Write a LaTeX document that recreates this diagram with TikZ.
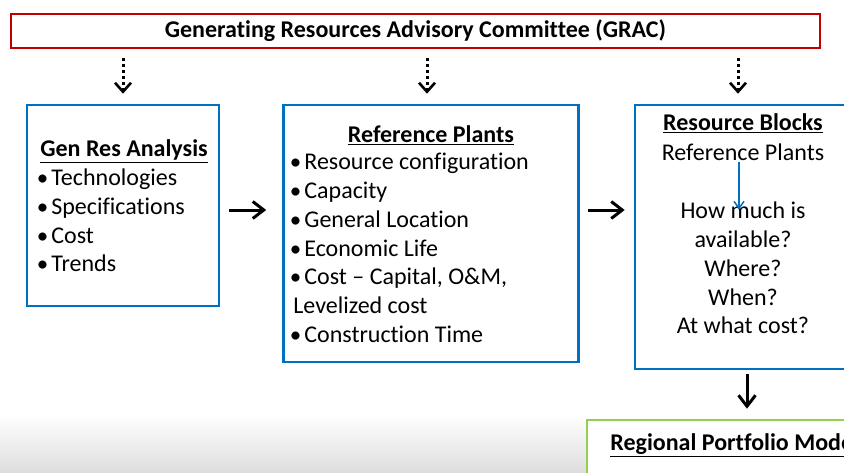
\documentclass[tikz,border=0pt]{standalone}
\usepackage{fontspec}
\setmainfont[Ligatures={NoCommon}]{Carlito}
\usetikzlibrary{arrows.meta}
\definecolor{gracred}{RGB}{192,0,0}
\definecolor{boxblue}{RGB}{0,112,192}
\definecolor{portgreen}{RGB}{146,208,80}
\tikzset{every picture/.style={line width=0.75pt}}
\newcommand{\hd}[1]{\underline{\textbf{#1}}}
\newcommand{\itm}{\makebox[11pt][l]{\hspace{-3.5pt}\fontsize{23}{0}\selectfont\textbullet}}

\begin{document}
\begin{tikzpicture}[x=1pt,y=1pt,yscale=-1,xscale=1,
  panel/.style={rectangle,draw=boxblue,line width=2.6pt,fill=white,inner sep=0pt},
  txt/.style={inner sep=0pt,font=\fontsize{24}{28.8}\selectfont},
  feed/.style={line width=3pt,dash pattern=on 3pt off 3pt,
    -{Straight Barb[length=9pt,width=16pt,line width=2.6pt]}},
  flow/.style={line width=3pt,-{Straight Barb[length=11pt,width=17pt,line width=3pt]}}]
\clip (0,0) rectangle (844,472);
\fill[white] (0,0) rectangle (844,472);
% slide floor shading
\shade[top color=white,bottom color=black!13] (0,414) rectangle (844,472);

% committee banner
\node[rectangle,draw=gracred,line width=2.6pt,fill=white,minimum width=809pt,minimum height=34pt,
  txt] (grac) at (415.5,31) {\textbf{Generating Resources Advisory Committee (GRAC)}};

% Shape: analysis box
\node[panel,minimum width=192pt,minimum height=201pt] (gra) at (123,205.5) {};
\node[txt,anchor=west,align=left] (gratxt) at (40,206) {\hd{Gen Res Analysis}\\
  \itm Technologies\\ \itm Specifications\\ \itm Cost\\ \itm Trends};

% Shape: reference plants box
\node[panel,minimum width=295pt,minimum height=257pt] (ref) at (431,233.5) {};
\node[txt] (reftitle) at (431,135) {\hd{Reference Plants}};
\node[txt,anchor=west,align=left] (reftxt) at (293,248) {\itm Resource configuration\\
  \itm Capacity\\ \itm General Location\\ \itm Economic Life\\
  \itm Cost -- Capital, O\&M,\\ Levelized cost\\ \itm Construction Time};

% Shape: resource blocks box
\node[panel,minimum width=216pt,minimum height=264pt] (blk) at (743,237) {};
\node[txt] (blktitle) at (743,123) {\hd{Resource Blocks}};
\node[txt] (blkref) at (743,152) {Reference Plants};
\node[txt,align=center] (blkq) at (743,268) {How much is\\ available?\\ Where?\\ When?\\ At what cost?};

% Shape: portfolio model box
\node[rectangle,draw=portgreen,line width=2.6pt,fill=white,inner sep=0pt,
  minimum width=330pt,minimum height=110pt] (port) at (752,475) {};
\node[txt,anchor=west] (porttxt) at (610,445) {\hd{Regional Portfolio Model}};

% connectors
\coordinate (mid) at (0,210);
\draw[feed,shorten <=9pt,shorten >=10pt] (grac.south -| gra.north) -- (gra.north);
\draw[feed,shorten <=9pt,shorten >=10pt] (grac.south -| ref.north) ++(-4,0) coordinate (f2) -- (f2 |- ref.north);
\draw[feed,shorten <=9pt,shorten >=10pt] (grac.south -| blk.north) ++(-5,0) coordinate (f3) -- (f3 |- blk.north);
\draw[flow,shorten <=9pt,shorten >=16pt] (gra.east |- mid) -- (ref.west |- mid);
\draw[flow,shorten <=8pt,shorten >=9pt] (ref.east |- mid) -- (blk.west |- mid);
\draw[flow,shorten <=4pt,shorten >=10pt] (blk.south) ++(4,0) coordinate (d1) -- (d1 |- port.north);
\draw[boxblue,line width=1.5pt,-{Straight Barb[length=7pt,width=10pt]},shorten <=1pt,shorten >=-8pt]
  (blkref.south) ++(-4,0) coordinate (b1) -- (b1 |- blkq.north);
\end{tikzpicture}
\end{document}
